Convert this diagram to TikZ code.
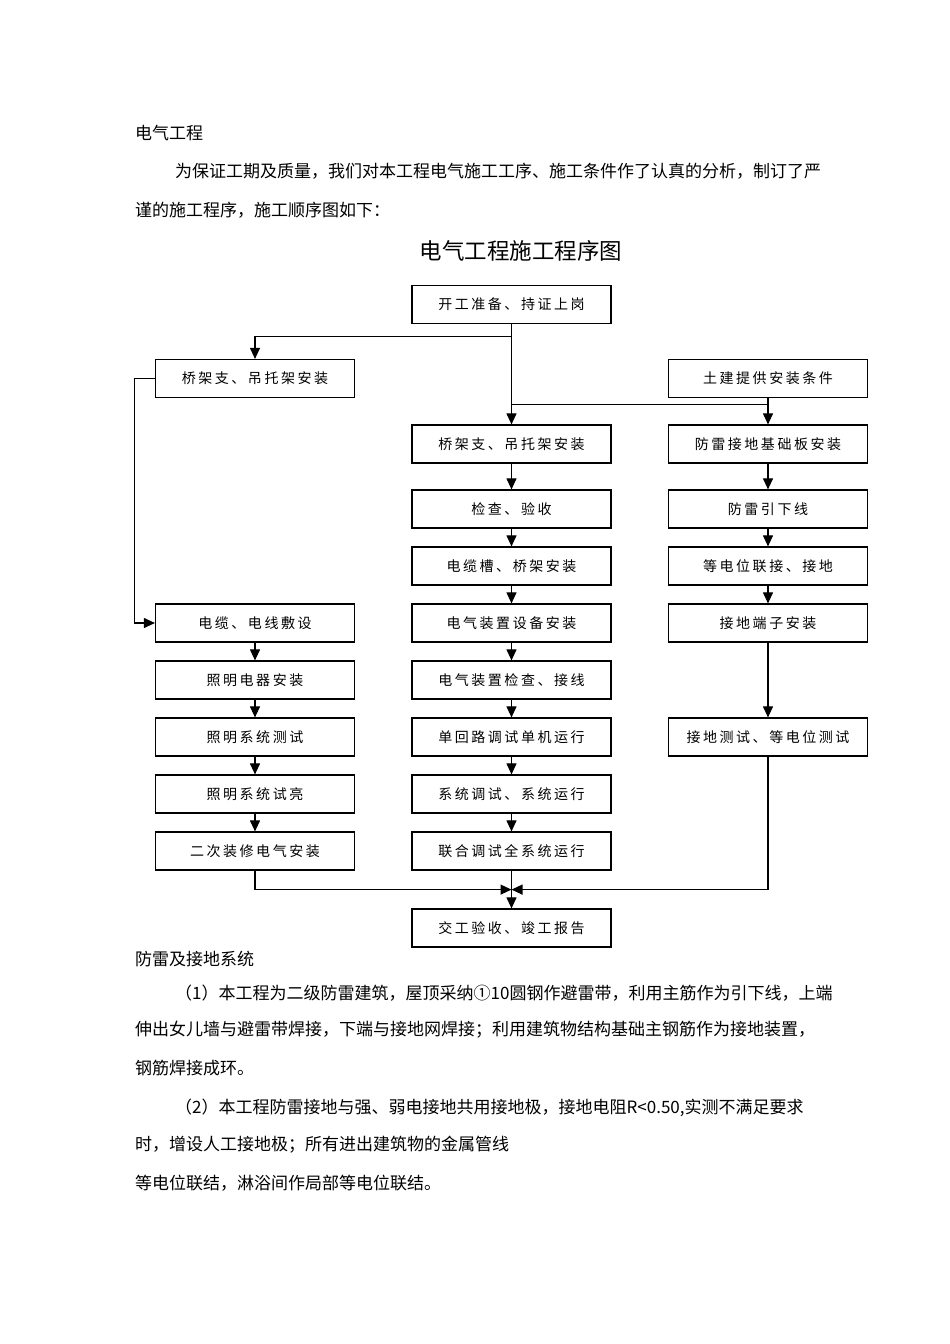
\documentclass[tikz,border=0pt]{standalone}
\usepackage{fontspec}
\usepackage{tikz}
\usetikzlibrary{arrows.meta}
\newfontfamily\cjk{Noto Sans CJK SC}
\newfontfamily\cjkbox[LetterSpace=18]{Noto Sans CJK SC}

\begin{document}
\begin{tikzpicture}[x=1pt, y=-1pt,
  box/.style={draw, line width=1.2pt, minimum width=199pt, minimum height=38pt, inner sep=0pt,
    font=\cjkbox\fontsize{14pt}{16pt}\selectfont},
  line/.style={line width=1.1pt},
  arr/.style={line width=1.1pt, -{Triangle[length=11pt, width=10pt]}},
  para/.style={anchor=west, inner sep=0pt, font=\cjk\fontsize{17pt}{19pt}\selectfont}]

  \useasboundingbox (0, 0) rectangle (950, 1344);

  \node[para] (h1) at (135, 133) {电气工程};
  \node[para] (p1) at (175, 171) {为保证工期及质量，我们对本工程电气施工工序、施工条件作了认真的分析，制订了严};
  \node[para] (p2) at (135, 210) {谨的施工程序，施工顺序图如下：};

  \node[inner sep=0pt, font=\cjk\fontsize{22.5pt}{24pt}\selectfont] (title) at (521, 251) {电气工程施工程序图};

  \node[box] (start) at (511.5, 304.5) {开工准备、持证上岗};
  \node[box] (lqj) at (255, 378.5) {桥架支、吊托架安装};
  \node[box] (tj) at (768, 378.5) {土建提供安装条件};

  \node[box] (m1) at (511.5, 444) {桥架支、吊托架安装};
  \node[box] (m2) at (511.5, 509) {检查、验收};
  \node[box] (m3) at (511.5, 566) {电缆槽、桥架安装};
  \node[box] (m4) at (511.5, 623) {电气装置设备安装};
  \node[box] (m5) at (511.5, 680) {电气装置检查、接线};
  \node[box] (m6) at (511.5, 737) {单回路调试单机运行};
  \node[box] (m7) at (511.5, 794) {系统调试、系统运行};
  \node[box] (m8) at (511.5, 851) {联合调试全系统运行};

  \node[box] (r1) at (768, 444) {防雷接地基础板安装};
  \node[box] (r2) at (768, 509) {防雷引下线};
  \node[box] (r3) at (768, 566) {等电位联接、接地};
  \node[box] (r4) at (768, 623) {接地端子安装};
  \node[box] (r5) at (768, 737) {接地测试、等电位测试};

  \node[box] (l1) at (255, 623) {电缆、电线敷设};
  \node[box] (l2) at (255, 680) {照明电器安装};
  \node[box] (l3) at (255, 737) {照明系统测试};
  \node[box] (l4) at (255, 794) {照明系统试亮};
  \node[box] (l5) at (255, 851) {二次装修电气安装};

  \node[box] (fin) at (511.5, 928) {交工验收、竣工报告};

  \coordinate (split) at ([yshift=-12pt]start.south);
  \coordinate (join) at ([yshift=-6pt]tj.south);
  \coordinate (meet) at ([yshift=-19pt]m8.south);

  \draw[arr] (start.south) -- (m1.north);
  \draw[arr] (split) -| (lqj.north);
  \draw[arr] (tj.south) -- (r1.north);
  \draw[line] (join) -- (join -| m1.north);
  \draw[arr] (lqj.west) -- ++(-20, 0) |- (l1.west);

  \foreach \a/\b in {m1/m2, m2/m3, m3/m4, m4/m5, m5/m6, m6/m7, m7/m8, m8/fin,
                     r1/r2, r2/r3, r3/r4, r4/r5,
                     l1/l2, l2/l3, l3/l4, l4/l5}
    \draw[arr] (\a.south) -- (\b.north);

  \draw[arr] (l5.south) |- (meet);
  \draw[arr] (r5.south) |- (meet);

  \node[para] (h2) at (135, 959) {防雷及接地系统};
  \node[para] (q1) at (175, 993) {（1）本工程为二级防雷建筑，屋顶采纳①10圆钢作避雷带，利用主筋作为引下线，上端};
  \node[para] (q2) at (135, 1030) {伸出女儿墙与避雷带焊接，下端与接地网焊接；利用建筑物结构基础主钢筋作为接地装置，};
  \node[para] (q3) at (135, 1068) {钢筋焊接成环。};
  \node[para] (q4) at (175, 1108) {（2）本工程防雷接地与强、弱电接地共用接地极，接地电阻R<0.50,实测不满足要求};
  \node[para] (q5) at (135, 1145) {时，增设人工接地极；所有进出建筑物的金属管线};
  \node[para] (q6) at (135, 1183) {等电位联结，淋浴间作局部等电位联结。};

\end{tikzpicture}
\end{document}
